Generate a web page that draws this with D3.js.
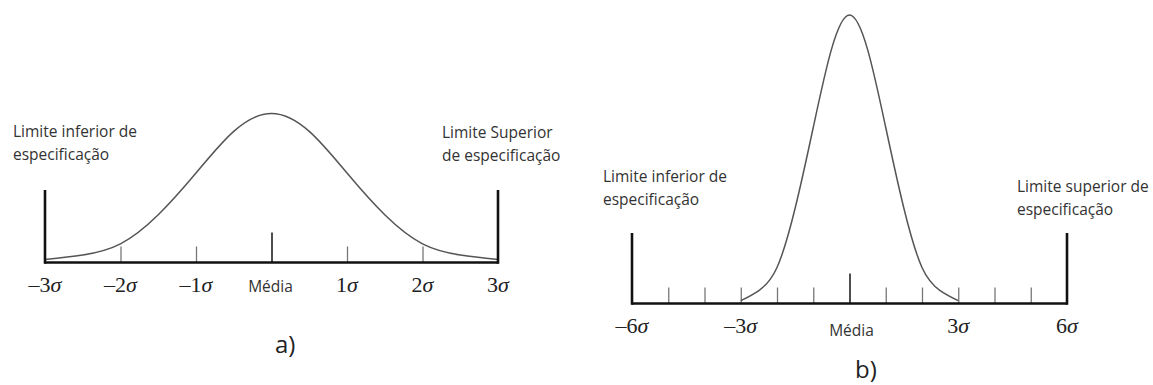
<!DOCTYPE html>
<html>
<head>
<meta charset="utf-8">
<script src="https://cdn.jsdelivr.net/npm/d3@7"></script>
<style>
  body { margin: 0; background: #fff; }
  svg { display: block; }
</style>
</head>
<body>
<div id="chart"></div>
<script>
// curve a) heights, relative to the peak
const sigmaA = [-3, -2.5, -2, -1.5, -1, -0.5, 0, 0.5, 1, 1.5, 2, 2.5, 3];
const heightA = [0.02, 0.05, 0.125, 0.32, 0.6, 0.88, 1, 0.88, 0.6, 0.32, 0.125, 0.05, 0.02];
const ticksA = [-3, -2, -1, 0, 1, 2, 3];
const tickLabelsA = ['–3', '–2', '–1', 'Média', '1', '2', '3'];

// curve b)
const sigmaB = [-3, -2.5, -2, -1.5, -1, -0.5, 0, 0.5, 1, 1.5, 2, 2.5, 3];
const heightB = [0.01, 0.045, 0.125, 0.33, 0.61, 0.88, 1, 0.88, 0.61, 0.33, 0.125, 0.045, 0.01];
const ticksB = [-6, -5, -4, -3, -2, -1, 0, 1, 2, 3, 4, 5, 6];
const tickLabelsB = {'-6': '–6', '-3': '–3', '0': 'Média', '3': '3', '6': '6'};

const svg = d3.select('#chart').append('svg')
  .attr('width', 1153)
  .attr('height', 385);

function panel(opt) {
  const x = d3.scaleLinear().domain(opt.domain).range(opt.xRange);
  const y = d3.scaleLinear().domain([0, 1]).range([opt.base, opt.peak]);
  const g = svg.append('g');

  // minor ticks, drawn upward from the baseline
  const inner = opt.ticks.filter(d => d !== opt.domain[0] && d !== opt.domain[1]);
  const axis = d3.axisBottom(x)
    .tickValues(inner)
    .tickSizeInner(-opt.tick)
    .tickSizeOuter(0)
    .tickFormat('');
  const ax = g.append('g')
    .attr('transform', `translate(0,${opt.base})`)
    .call(axis);
  ax.select('.domain').remove();
  ax.selectAll('.tick line')
    .attr('stroke', d => d === 0 ? '#222' : '#777')
    .attr('stroke-width', d => d === 0 ? 1.6 : 1.3)
    .attr('y2', d => d === 0 ? -opt.meanTick : -opt.tick);

  // curve
  const line = d3.line()
    .x((d, i) => x(opt.xs[i]))
    .y(d => y(d))
    .curve(d3.curveNatural);
  g.append('path')
    .datum(opt.ys)
    .attr('fill', 'none')
    .attr('stroke', '#555')
    .attr('stroke-width', 1.5)
    .attr('d', line);

  // baseline and spec-limit bars
  g.append('line')
    .attr('x1', x(opt.domain[0])).attr('x2', x(opt.domain[1]))
    .attr('y1', opt.base).attr('y2', opt.base)
    .attr('stroke', '#111').attr('stroke-width', 2.6);
  g.selectAll('.lim')
    .data(opt.domain)
    .join('line')
      .attr('x1', d => x(d)).attr('x2', d => x(d))
      .attr('y1', opt.limTop).attr('y2', opt.base + 1.3)
      .attr('stroke', '#111').attr('stroke-width', 2.6);

  // tick labels
  opt.ticks.forEach((t, i) => {
    const lab = opt.label(t, i);
    if (lab == null) return;
    if (lab === 'Média') {
      g.append('text')
        .attr('x', x(t) - opt.meanShift)
        .attr('y', opt.meanY)
        .attr('text-anchor', 'middle')
        .attr('font-family', '"Open Sans", sans-serif')
        .attr('font-size', 15.5)
        .attr('fill', '#333')
        .text(lab);
    } else {
      const tx = g.append('text')
        .attr('x', x(t))
        .attr('y', opt.labY)
        .attr('text-anchor', 'middle')
        .attr('font-family', '"Liberation Serif", serif')
        .attr('font-size', 22)
        .attr('fill', '#222');
      tx.append('tspan').text(lab);
      tx.append('tspan').attr('font-style', 'italic').text('σ');
    }
  });

  // spec-limit captions
  opt.captions.forEach(c => {
    const t = g.append('text')
      .attr('font-family', '"Open Sans", sans-serif')
      .attr('font-size', 15.5)
      .attr('fill', '#333');
    c.lines.forEach((s, k) => {
      t.append('tspan').attr('x', c.x).attr('y', c.y + k * 23).text(s);
    });
  });

  svg.append('text')
    .attr('x', opt.tag.x).attr('y', opt.tag.y)
    .attr('font-family', '"Open Sans", sans-serif')
    .attr('font-size', 24)
    .attr('fill', '#222')
    .text(opt.tag.text);
}

panel({
  domain: [-3, 3], xRange: [45, 498],
  base: 262.5, peak: 113.5, limTop: 190,
  tick: 16, meanTick: 30,
  xs: sigmaA, ys: heightA, ticks: ticksA,
  label: (t, i) => tickLabelsA[i],
  labY: 292, meanY: 292, meanShift: 1,
  captions: [
    {x: 13, y: 137, lines: ['Limite inferior de', 'especificação']},
    {x: 442, y: 138, lines: ['Limite Superior', 'de especificação']}
  ],
  tag: {x: 275, y: 353, text: 'a)'}
});

panel({
  domain: [-6, 6], xRange: [632, 1067],
  base: 303.5, peak: 15, limTop: 233,
  tick: 16, meanTick: 30,
  xs: sigmaB, ys: heightB, ticks: ticksB,
  label: t => tickLabelsB[t],
  labY: 333, meanY: 336, meanShift: -2,
  captions: [
    {x: 603, y: 182, lines: ['Limite inferior de', 'especificação']},
    {x: 1017, y: 192, lines: ['Limite superior de', 'especificação']}
  ],
  tag: {x: 855, y: 378, text: 'b)'}
});
</script>
</body>
</html>
